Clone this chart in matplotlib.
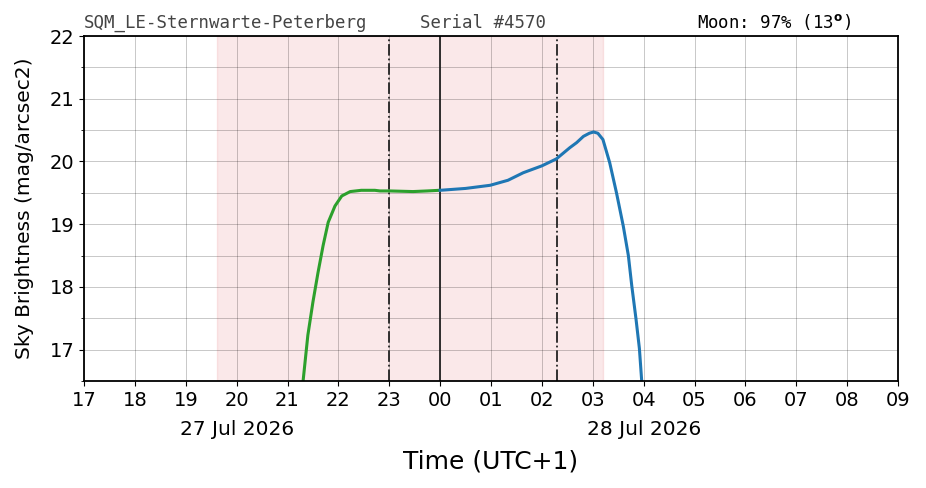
import numpy as np
import pandas as pd
import matplotlib
matplotlib.use("Agg")
import matplotlib.pyplot as plt
import matplotlib.dates as mdates
import matplotlib.transforms as mtransforms

# evening readings (27 Jul), green
eve_times = ["21:18", "21:24", "21:30", "21:36", "21:42", "21:48", "21:56",
             "22:04", "22:14", "22:27", "22:43", "22:49", "23:00", "23:28", "23:45", "23:59"]
eve_mag = [16.45, 17.23, 17.76, 18.23, 18.66, 19.03, 19.29,
           19.45, 19.52, 19.54, 19.54, 19.53, 19.53, 19.52, 19.53, 19.54]

# morning readings (28 Jul), blue
morn_times = ["00:00", "00:30", "00:59", "01:20", "01:38", "02:00", "02:17", "02:33",
              "02:41", "02:49", "02:56", "03:01", "03:06", "03:12", "03:20", "03:28",
              "03:36", "03:42", "03:46", "03:51", "03:55", "03:58"]
morn_mag = [19.54, 19.57, 19.62, 19.70, 19.82, 19.93, 20.04, 20.22,
            20.30, 20.40, 20.45, 20.47, 20.45, 20.35, 19.98, 19.50,
            18.97, 18.50, 18.02, 17.49, 17.02, 16.45]

night_start, night_end = "2026-07-27 19:37", "2026-07-28 03:12"
dashdot_marks = ["2026-07-27 23:00", "2026-07-28 02:18"]
midnight = "2026-07-28 00:00"
date_labels = {"2026-07-27 20:00": "27 Jul 2026", "2026-07-28 04:00": "28 Jul 2026"}

eve = pd.to_datetime(["2026-07-27 " + t for t in eve_times])
morn = pd.to_datetime(["2026-07-28 " + t for t in morn_times])

fig = plt.figure(figsize=(9.26, 4.88), dpi=100)
ax = fig.add_axes([84 / 926, 1 - 381 / 488, (898 - 84) / 926, (381 - 36) / 488])

ax.axvspan(pd.Timestamp(night_start), pd.Timestamp(night_end), color="tab:red", alpha=0.1)
for t in dashdot_marks:
    ax.axvline(pd.Timestamp(t), color="#222222", lw=1.3, ls="-.")
ax.axvline(pd.Timestamp(midnight), color="#222222", lw=1.3)

ax.plot(eve, eve_mag, color="tab:green", lw=2.2)
ax.plot(morn, morn_mag, color="tab:blue", lw=2.2)

ax.set_xlim(pd.Timestamp("2026-07-27 17:00"), pd.Timestamp("2026-07-28 09:00"))
ax.set_ylim(16.5, 22)
ax.xaxis.set_major_locator(mdates.HourLocator())
ax.xaxis.set_major_formatter(mdates.DateFormatter("%H"))
ax.yaxis.set_major_locator(plt.MultipleLocator(1))
ax.yaxis.set_minor_locator(plt.MultipleLocator(0.5))
ax.tick_params(labelsize=14)
ax.grid(which="both", color="black", alpha=0.3, lw=0.5)
for s in ax.spines.values():
    s.set_linewidth(1.3)

trans = mtransforms.blended_transform_factory(ax.transData, ax.transAxes)
for t, lab in date_labels.items():
    ax.text(pd.Timestamp(t), -0.142, lab, transform=trans, ha="center", va="center", fontsize=14.5)

ax.set_ylabel("Sky Brightness (mag/arcsec2)", fontsize=14.5)
ax.yaxis.set_label_coords(-0.062, 0.5)
ax.set_xlabel("Time (UTC+1)", fontsize=18, labelpad=29)

fig.text(84 / 926, 1 - 32 / 488, "SQM_LE-Sternwarte-Peterberg", family="DejaVu Sans Mono",
         fontsize=12.5, color="#444444", va="bottom")
fig.text(420 / 926, 1 - 32 / 488, "Serial #4570", family="DejaVu Sans Mono",
         fontsize=12.5, color="#444444", va="bottom")
fig.text(697 / 926, 1 - 32 / 488, r"Moon: 97% (13$^{\mathbf{o}}$)", family="DejaVu Sans Mono",
         fontsize=12.5, color="black", va="bottom")

fig.savefig("out.png", dpi=100)
